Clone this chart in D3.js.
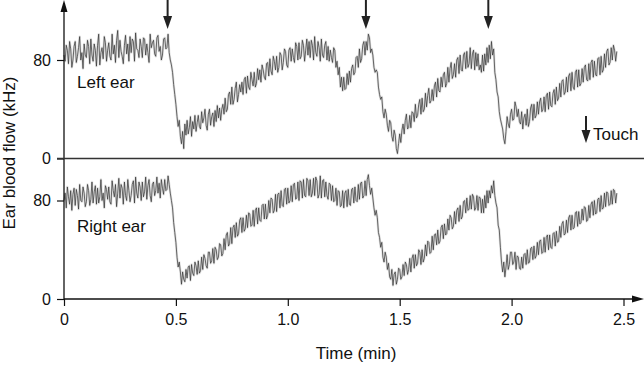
<!DOCTYPE html>
<html>
<head>
<meta charset="utf-8">
<script src="https://cdn.jsdelivr.net/npm/d3@7"></script>
<style>
  html, body { margin: 0; padding: 0; background: #fff; }
  svg { display: block; }
  text { font-family: "Liberation Sans", Arial, sans-serif; fill: #111; }
</style>
</head>
<body>
<svg id="chart" width="644" height="366"></svg>
<script>
// ---------------- DATA ----------------
const sampleStep = 0.005;         // minutes between samples (samples start at t = 0)
const xTicks = [0, 0.5, 1.0, 1.5, 2.0, 2.5];
const xTickLabels = ["0", "0.5", "1.0", "1.5", "2.0", "2.5"];
const yTicks = [0, 80];
const yTickLabels = ["0", "80"];
const touchTimes = [0.463, 1.349, 1.896];
const panelLabels = ["Left ear", "Right ear"];

// Left ear blood flow (kHz), one value every 0.005 min from 0 to 2.47 (rows = 0.05 min)
const leftEar = [
  84, 79, 92, 88, 77, 95, 89, 74, 80, 91,
  95, 78, 83, 90, 99, 80, 86, 73, 93, 84,
  82, 96, 91, 77, 97, 84, 79, 93, 88, 75,
  92, 101, 76, 86, 90, 81, 99, 94, 79, 88,
  94, 83, 80, 101, 85, 92, 78, 96, 104, 82,
  96, 87, 83, 77, 92, 100, 85, 93, 79, 99,
  86, 97, 95, 79, 102, 89, 88, 82, 97, 91,
  82, 98, 97, 84, 93, 86, 78, 101, 90, 94,
  96, 85, 83, 98, 100, 87, 91, 80, 84, 97,
  98, 89, 90, 101, 86, 80, 76, 70, 60, 52,
  44, 34, 26, 31, 18, 12, 22, 8, 28, 19,
  31, 20, 25, 34, 18, 30, 24, 35, 22, 29,
  35, 26, 24, 38, 29, 33, 40, 27, 23, 36,
  40, 27, 34, 37, 26, 39, 30, 43, 33, 41,
  31, 40, 44, 36, 49, 38, 40, 52, 54, 44,
  58, 44, 48, 57, 62, 46, 52, 60, 54, 62,
  52, 64, 66, 53, 67, 58, 56, 70, 64, 59,
  70, 58, 61, 73, 64, 72, 62, 76, 72, 66,
  64, 77, 78, 67, 81, 71, 68, 83, 79, 72,
  83, 70, 74, 86, 84, 72, 78, 89, 87, 76,
  74, 88, 90, 79, 89, 82, 78, 94, 91, 80,
  94, 81, 83, 96, 92, 79, 88, 97, 84, 95,
  82, 96, 92, 80, 99, 86, 83, 95, 90, 79,
  97, 84, 82, 92, 95, 80, 91, 79, 88, 82,
  78, 90, 88, 74, 79, 68, 74, 58, 66, 55,
  66, 56, 57, 69, 60, 71, 62, 73, 76, 68,
  70, 82, 83, 74, 89, 78, 81, 92, 95, 84,
  95, 88, 101, 98, 86, 89, 84, 74, 70, 72,
  70, 58, 52, 48, 50, 38, 33, 40, 36, 27,
  22, 31, 29, 18, 14, 23, 19, 8, 4, 12,
  20, 13, 23, 28, 20, 31, 36, 24, 25, 35,
  25, 38, 37, 30, 44, 33, 35, 44, 48, 36,
  49, 38, 40, 53, 42, 51, 57, 45, 47, 56,
  47, 59, 62, 50, 65, 55, 54, 66, 58, 68,
  70, 58, 61, 74, 62, 73, 78, 65, 68, 77,
  66, 80, 82, 69, 84, 72, 71, 84, 86, 73,
  87, 74, 77, 90, 73, 85, 88, 72, 86, 75,
  85, 72, 76, 70, 84, 71, 85, 76, 90, 78,
  92, 81, 95, 84, 89, 70, 64, 54, 50, 38,
  32, 28, 24, 16, 12, 22, 34, 28, 25, 36,
  40, 31, 32, 46, 42, 34, 40, 30, 28, 38,
  24, 33, 36, 27, 40, 26, 30, 41, 44, 31,
  44, 33, 35, 46, 36, 46, 49, 38, 40, 50,
  38, 51, 53, 40, 54, 43, 42, 53, 56, 44,
  58, 47, 49, 61, 50, 63, 64, 52, 54, 66,
  54, 67, 69, 55, 70, 58, 56, 70, 72, 58,
  72, 59, 61, 73, 62, 74, 76, 64, 63, 77,
  64, 78, 80, 66, 79, 68, 67, 81, 82, 68,
  83, 70, 72, 85, 74, 87, 89, 76, 78, 90,
  80, 92, 88, 79, 87
];

// Right ear blood flow (kHz), one value every 0.005 min from 0 to 2.47 (rows = 0.05 min)
const rightEar = [
  80, 86, 74, 91, 83, 77, 88, 72, 85, 90,
  76, 89, 84, 73, 93, 80, 79, 91, 86, 75,
  79, 93, 88, 76, 81, 95, 78, 87, 92, 77,
  90, 78, 83, 97, 80, 86, 74, 92, 89, 81,
  91, 79, 77, 96, 88, 83, 93, 75, 86, 98,
  82, 93, 90, 77, 95, 84, 80, 97, 88, 79,
  84, 93, 96, 78, 99, 86, 82, 95, 91, 80,
  95, 83, 87, 99, 81, 92, 97, 84, 79, 93,
  95, 84, 88, 99, 86, 94, 82, 97, 90, 85,
  97, 88, 89, 100, 93, 86, 80, 74, 62, 54,
  46, 34, 26, 30, 22, 12, 22, 16, 14, 24,
  17, 26, 27, 15, 28, 21, 19, 30, 27, 20,
  31, 21, 23, 34, 24, 36, 33, 27, 25, 38,
  38, 29, 31, 41, 29, 42, 40, 32, 34, 45,
  44, 35, 37, 49, 40, 52, 54, 43, 45, 58,
  45, 58, 60, 50, 62, 51, 53, 64, 66, 54,
  66, 55, 57, 68, 58, 70, 69, 59, 60, 72,
  59, 72, 74, 61, 74, 64, 63, 76, 77, 65,
  77, 65, 68, 80, 70, 82, 81, 70, 72, 85,
  71, 85, 86, 74, 88, 76, 75, 89, 90, 77,
  90, 78, 80, 92, 79, 93, 94, 81, 82, 95,
  80, 96, 95, 82, 97, 84, 83, 98, 96, 84,
  97, 83, 86, 98, 84, 99, 96, 82, 85, 100,
  82, 96, 97, 83, 95, 84, 81, 94, 93, 80,
  92, 79, 80, 90, 76, 88, 87, 75, 76, 88,
  74, 86, 88, 75, 89, 77, 76, 89, 90, 78,
  91, 80, 79, 93, 81, 94, 95, 82, 84, 96,
  84, 97, 101, 92, 85, 90, 82, 74, 68, 72,
  66, 54, 50, 42, 46, 34, 30, 38, 34, 24,
  29, 18, 16, 24, 11, 20, 22, 12, 16, 25,
  24, 16, 18, 28, 19, 30, 28, 20, 24, 33,
  22, 33, 36, 25, 36, 27, 29, 40, 38, 28,
  40, 30, 33, 44, 35, 47, 46, 37, 38, 51,
  40, 52, 53, 44, 56, 45, 47, 58, 60, 49,
  61, 52, 53, 65, 56, 68, 66, 57, 59, 71,
  61, 72, 74, 63, 76, 65, 67, 79, 80, 70,
  82, 72, 73, 84, 73, 85, 83, 72, 74, 84,
  72, 83, 82, 70, 81, 70, 84, 74, 88, 78,
  88, 82, 92, 86, 96, 84, 78, 74, 60, 56,
  42, 30, 22, 30, 18, 26, 36, 24, 28, 38,
  38, 28, 30, 38, 24, 35, 34, 25, 24, 34,
  25, 36, 37, 28, 40, 29, 30, 41, 42, 32,
  43, 33, 35, 46, 36, 47, 48, 37, 38, 50,
  38, 50, 52, 40, 52, 42, 41, 53, 54, 43,
  55, 46, 47, 59, 50, 61, 63, 52, 53, 64,
  54, 66, 68, 56, 68, 57, 58, 70, 71, 59,
  71, 61, 62, 73, 64, 75, 74, 63, 64, 76,
  66, 77, 79, 68, 80, 69, 70, 81, 82, 71,
  84, 73, 74, 86, 75, 87, 86, 76, 77, 88,
  77, 89, 88, 78, 86
];

// ---------------- DRAWING ----------------
const svg = d3.select("#chart");
const x = d3.scaleLinear().domain([0, 2.5]).range([64, 623.5]);
const yTop = d3.scaleLinear().domain([0, 80]).range([158.5, 60]);
const yBot = d3.scaleLinear().domain([0, 80]).range([299, 200.5]);
const axisColor = "#111";

function drawTrace(values, y) {
  const line = d3.line()
    .x((d, i) => x(i * sampleStep))
    .y(d => y(d));
  svg.append("path").datum(values)
    .attr("d", line).attr("fill", "none")
    .attr("stroke", "#999").attr("stroke-width", 2.4)
    .attr("stroke-opacity", 0.3).attr("stroke-linejoin", "round");
  svg.append("path").datum(values)
    .attr("d", line).attr("fill", "none")
    .attr("stroke", "#333").attr("stroke-width", 0.8)
    .attr("stroke-opacity", 0.9).attr("stroke-linejoin", "round");
}
drawTrace(leftEar, yTop);
drawTrace(rightEar, yBot);

// Y axes (left ticks) for both panels
[yTop, yBot].forEach(y => {
  const ax = d3.axisLeft(y).tickValues(yTicks)
    .tickFormat((d, i) => yTickLabels[i]).tickSize(7).tickPadding(6);
  const g = svg.append("g").attr("transform", "translate(64,0)").call(ax);
  g.select(".domain").remove();
  g.selectAll("line").attr("stroke", axisColor).attr("stroke-width", 1.2);
  g.selectAll("text").style("font-size", "16px")
    .style("font-family", "'Liberation Sans', Arial, sans-serif").attr("fill", "#111");
});

// Vertical axis line with arrow on top
svg.append("line").attr("x1", 64).attr("x2", 64).attr("y1", yBot(0)).attr("y2", 10)
  .attr("stroke", axisColor).attr("stroke-width", 1.3);
svg.append("path").attr("d", "M64,0 L67.5,12 L60.5,12 Z").attr("fill", axisColor);

// Separator / zero line of top panel
svg.append("line").attr("x1", 57).attr("x2", 644).attr("y1", yTop(0)).attr("y2", yTop(0))
  .attr("stroke", "#333").attr("stroke-width", 1.6);

// Bottom x axis
const xAx = d3.axisBottom(x).tickValues(xTicks)
  .tickFormat((d, i) => xTickLabels[i]).tickSize(7).tickPadding(8);
const gx = svg.append("g").attr("transform", `translate(0,${yBot(0)})`).call(xAx);
gx.select(".domain").remove();
gx.selectAll("line").attr("stroke", axisColor).attr("stroke-width", 1.2);
gx.selectAll("text").style("font-size", "16px")
  .style("font-family", "'Liberation Sans', Arial, sans-serif").attr("fill", "#111");
svg.append("line").attr("x1", 64).attr("x2", 634).attr("y1", yBot(0)).attr("y2", yBot(0))
  .attr("stroke", axisColor).attr("stroke-width", 1.3);
svg.append("path").attr("d", `M644,${yBot(0)} L632,${yBot(0) - 3.5} L632,${yBot(0) + 3.5} Z`)
  .attr("fill", axisColor);

// Touch arrows
function arrowDown(cx, yStart, yTip) {
  svg.append("line").attr("x1", cx).attr("x2", cx).attr("y1", yStart).attr("y2", yTip - 10)
    .attr("stroke", "#222").attr("stroke-width", 2);
  svg.append("path").attr("d", `M${cx},${yTip} L${cx + 4.5},${yTip - 13} L${cx - 4.5},${yTip - 13} Z`)
    .attr("fill", "#222");
}
touchTimes.forEach(t => arrowDown(x(t), 0, 29));
arrowDown(586, 116, 143);
svg.append("text").attr("x", 593).attr("y", 140).text("Touch").style("font-size", "17px");

// Panel labels
svg.append("text").attr("x", 77).attr("y", 88).text(panelLabels[0]).style("font-size", "17px");
svg.append("text").attr("x", 77).attr("y", 232).text(panelLabels[1]).style("font-size", "17px");

// Axis titles
svg.append("text").attr("x", 356).attr("y", 359).attr("text-anchor", "middle")
  .text("Time (min)").style("font-size", "17px");
svg.append("text").attr("transform", "translate(15,153) rotate(-90)")
  .attr("text-anchor", "middle").text("Ear blood flow (kHz)").style("font-size", "17px");
</script>
</body>
</html>
